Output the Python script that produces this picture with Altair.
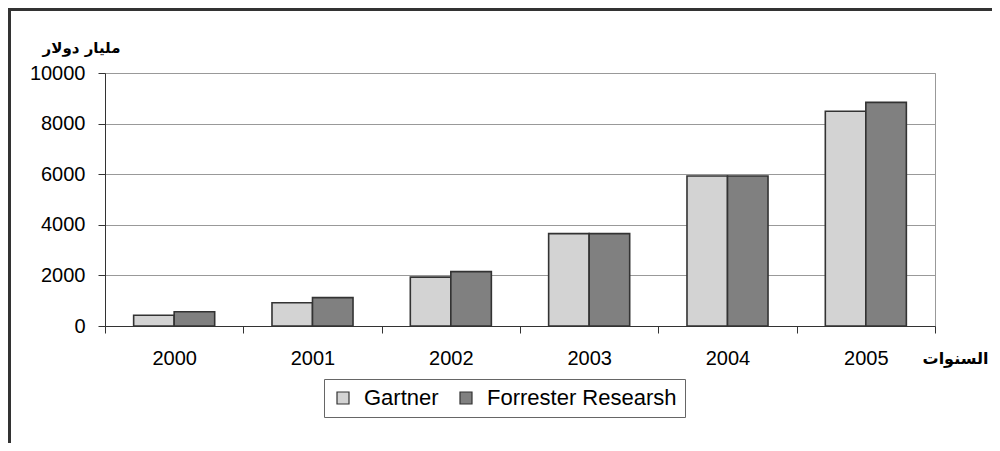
import altair as alt
import pandas as pd

years = ["2000", "2001", "2002", "2003", "2004", "2005"]
gartner = [425, 920, 1930, 3650, 5930, 8490]
forrester = [565, 1120, 2150, 3650, 5930, 8840]
sources = ["Gartner", "Forrester Researsh"]
y_ticks = [0, 2000, 4000, 6000, 8000, 10000]

rows = []
for i, yr in enumerate(years):
    rows.append({"year": yr, "source": sources[0], "value": gartner[i]})
    rows.append({"year": yr, "source": sources[1], "value": forrester[i]})
df = pd.DataFrame(rows)

W, H = 830, 253
PL, PT = 97, 65
SVG_W, SVG_H = 984, 435

bars = alt.Chart(df).mark_bar(stroke="#333333", strokeWidth=1.6).encode(
    x=alt.X(
        "year:N",
        sort=years,
        scale=alt.Scale(paddingInner=0, paddingOuter=0),
        axis=alt.Axis(
            title="السنوات",
            tickBand="extent",
            labelAngle=0,
            labelFontSize=20,
            labelFont="Liberation Sans",
            labelColor="#000000",
            labelBaseline="middle",
            labelPadding=25,
            tickSize=7,
            tickColor="#333333",
            domainColor="#333333",
            grid=False,
            titleFont="DejaVu Sans",
            titleFontSize=16,
            titleFontWeight="bold",
            titleColor="#000000",
            titleAngle=0,
            titleX=850,
            titleY=32,
            titleAlign="center",
            titleBaseline="middle",
        ),
    ),
    xOffset=alt.XOffset(
        "source:N",
        sort=sources,
        scale=alt.Scale(paddingInner=0, paddingOuter=0.707),
    ),
    y=alt.Y(
        "value:Q",
        scale=alt.Scale(domain=[0, 10000], nice=False),
        axis=alt.Axis(
            title="مليار دولار",
            values=y_ticks,
            format="d",
            labelFontSize=20,
            labelFont="Liberation Sans",
            labelColor="#000000",
            labelPadding=13,
            tickSize=7,
            tickColor="#333333",
            domainColor="#333333",
            gridColor="#999999",
            gridWidth=1,
            titleFont="DejaVu Sans",
            titleFontSize=15,
            titleFontWeight="bold",
            titleColor="#000000",
            titleAngle=0,
            titleX=-24,
            titleY=-26,
            titleAlign="center",
            titleBaseline="middle",
        ),
    ),
    color=alt.Color(
        "source:N",
        sort=sources,
        scale=alt.Scale(domain=sources, range=["#d3d3d3", "#808080"]),
        legend=alt.Legend(
            title=None,
            orient="none",
            legendX=219,
            legendY=306,
            direction="horizontal",
            symbolType="square",
            symbolSize=144,
            symbolStrokeColor="#333333",
            symbolStrokeWidth=1.2,
            symbolOpacity=1,
            labelFontSize=22,
            labelFont="Liberation Sans",
            labelColor="#000000",
            labelLimit=400,
            labelOffset=10,
            columnPadding=16,
            padding=8,
            strokeColor="#666666",
            fillColor="#ffffff",
        ),
    ),
)

frame = alt.Chart(pd.DataFrame({"a": [0]})).mark_rect(
    fill=None, stroke="#333333", strokeWidth=3
).encode(
    x=alt.value(-PL + 1.5),
    x2=alt.value(SVG_W + 50),
    y=alt.value(-PT + 1.5),
    y2=alt.value(SVG_H + 50),
)

chart = alt.layer(frame, bars).properties(
    width=W,
    height=H,
    autosize=alt.AutoSizeParams(type="none"),
    padding={"left": PL, "top": PT, "right": SVG_W - PL - W, "bottom": SVG_H - PT - H},
).configure_view(stroke="#999999", strokeWidth=1)

chart.save("out.html", embed_options={"renderer": "svg", "actions": False})
